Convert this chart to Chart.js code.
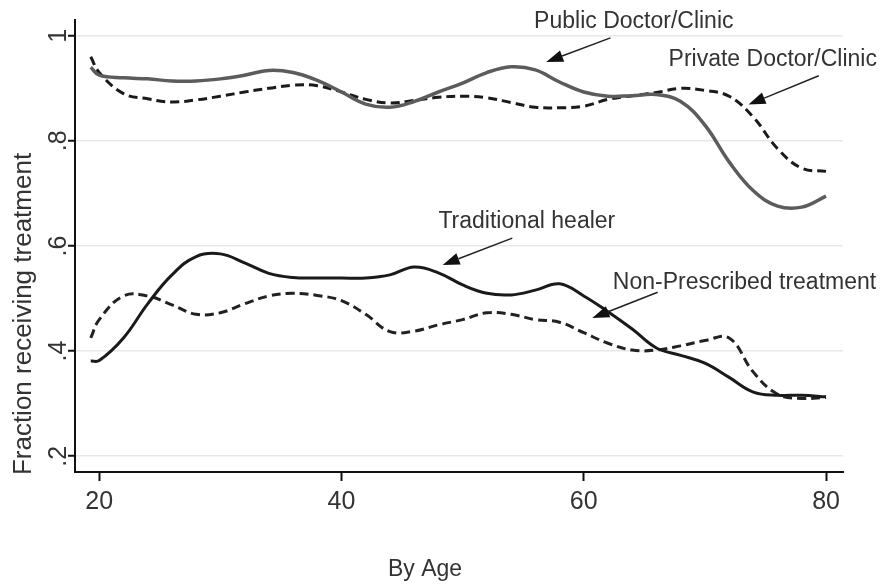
<!DOCTYPE html>
<html>
<head>
<meta charset="utf-8">
<script src="https://cdn.jsdelivr.net/npm/chart.js@4.4.1/dist/chart.umd.min.js"></script>
<style>
  html, body { margin: 0; padding: 0; background: #fff; }
  #wrap { width: 883px; height: 587px; position: relative; }
</style>
</head>
<body>
<div id="wrap"><canvas id="treatChart"></canvas></div>
<script>
// Ages on the x axis (years)
const ages = [19.3, 20, 22, 24, 26, 28, 30, 32, 34, 36, 38, 40, 42, 44, 46, 48, 50,
              52, 54, 56, 58, 60, 62, 64, 66, 68, 70, 72, 74, 76, 78, 80];

// Fraction receiving treatment, one value per age
const publicClinic = [0.94, 0.925, 0.92, 0.918, 0.914, 0.914, 0.918, 0.925, 0.934, 0.93, 0.915, 0.893,
                      0.87, 0.864, 0.875, 0.893, 0.91, 0.93, 0.941, 0.935, 0.912, 0.893, 0.885, 0.886,
                      0.888, 0.875, 0.83, 0.76, 0.705, 0.676, 0.674, 0.695];
const privateClinic = [0.96, 0.93, 0.89, 0.88, 0.874, 0.878, 0.885, 0.893, 0.9, 0.906, 0.905, 0.893,
                       0.879, 0.872, 0.877, 0.883, 0.885, 0.882, 0.873, 0.864, 0.863, 0.866, 0.879, 0.886,
                       0.892, 0.9, 0.896, 0.885, 0.845, 0.785, 0.748, 0.742];
const traditional = [0.381, 0.382, 0.425, 0.49, 0.545, 0.58, 0.585, 0.568, 0.548, 0.54, 0.539, 0.539,
                     0.539, 0.545, 0.56, 0.549, 0.526, 0.51, 0.507, 0.516, 0.528, 0.505, 0.475, 0.442,
                     0.406, 0.392, 0.377, 0.35, 0.322, 0.316, 0.316, 0.313];
const nonPrescribed = [0.425, 0.46, 0.505, 0.505, 0.488, 0.47, 0.473, 0.49, 0.505, 0.51, 0.506, 0.496,
                       0.47, 0.437, 0.438, 0.45, 0.46, 0.473, 0.47, 0.46, 0.455, 0.435, 0.415, 0.402,
                       0.402, 0.41, 0.42, 0.425, 0.36, 0.318, 0.31, 0.312];

// Tick labels
const xTicks = [20, 40, 60, 80];
const yTicks = [0.2, 0.4, 0.6, 0.8, 1];
const yTickText = ['.2', '.4', '.6', '.8', '1'];

// Series names and where their callouts sit (age, fraction)
const seriesNames = ['Public Doctor/Clinic', 'Private Doctor/Clinic', 'Traditional healer', 'Non-Prescribed treatment'];
const labelAt = [[55.9, 1.027], [67.0, 0.954], [48.0, 0.646], [62.4, 0.531]];
const arrowFrom = [[62.2, 0.996], [79.4, 0.924], [54.1, 0.615], [66.1, 0.512]];
const arrowTo = [[56.9, 0.950], [73.6, 0.869], [48.35, 0.564], [60.7, 0.463]];

const FONT = '"Liberation Sans", Arial, sans-serif';
const TEXT = '#333';

function pts(vals) {
    return ages.map((a, i) => ({ x: a, y: vals[i] }));
}

// draws rotated y tick labels, axis titles and callouts
const extras = {
    id: 'extras',
    afterDraw(chart) {
        const ctx = chart.ctx;
        const xs = chart.scales.x;
        const ys = chart.scales.y;
        ctx.save();
        ctx.fillStyle = TEXT;

        // y tick labels, reading upward
        ctx.font = '25px ' + FONT;
        ctx.textAlign = 'center';
        ctx.textBaseline = 'middle';
        yTicks.forEach((v, i) => {
            ctx.save();
            ctx.translate(59, ys.getPixelForValue(v));
            ctx.rotate(-Math.PI / 2);
            ctx.fillText(yTickText[i], 0, 0);
            ctx.restore();
        });

        // axis titles
        ctx.font = '26px ' + FONT;
        ctx.save();
        ctx.translate(24, 314);
        ctx.rotate(-Math.PI / 2);
        ctx.fillText('Fraction receiving treatment', 0, 0);
        ctx.restore();
        ctx.font = '23px ' + FONT;
        ctx.fillText('By Age', 425, 570);

        // callouts
        ctx.textAlign = 'left';
        seriesNames.forEach((name, i) => {
            const lx = xs.getPixelForValue(labelAt[i][0]);
            const ly = ys.getPixelForValue(labelAt[i][1]);
            ctx.fillText(name, lx, ly);

            const x0 = xs.getPixelForValue(arrowFrom[i][0]);
            const y0 = ys.getPixelForValue(arrowFrom[i][1]);
            const x1 = xs.getPixelForValue(arrowTo[i][0]);
            const y1 = ys.getPixelForValue(arrowTo[i][1]);
            const ang = Math.atan2(y1 - y0, x1 - x0);
            const head = 17, half = 6;
            const bx = x1 - head * Math.cos(ang);
            const by = y1 - head * Math.sin(ang);
            ctx.strokeStyle = '#222';
            ctx.lineWidth = 1.5;
            ctx.beginPath();
            ctx.moveTo(x0, y0);
            ctx.lineTo(bx, by);
            ctx.stroke();
            ctx.fillStyle = '#111';
            ctx.beginPath();
            ctx.moveTo(x1, y1);
            ctx.lineTo(bx + half * Math.sin(ang), by - half * Math.cos(ang));
            ctx.lineTo(bx - half * Math.sin(ang), by + half * Math.cos(ang));
            ctx.closePath();
            ctx.fill();
            ctx.fillStyle = TEXT;
        });
        ctx.restore();
    }
};

const ctx = document.getElementById('treatChart').getContext('2d');
const treatChart = new Chart(ctx, {
    type: 'line',
    data: {
        datasets: [
            {
                label: seriesNames[0],
                data: pts(publicClinic),
                borderColor: '#5c5c5c',
                borderWidth: 3.5,
                tension: 0.4
            },
            {
                label: seriesNames[1],
                data: pts(privateClinic),
                borderColor: '#1a1a1a',
                borderWidth: 3,
                borderDash: [9, 5],
                tension: 0.4
            },
            {
                label: seriesNames[2],
                data: pts(traditional),
                borderColor: '#1a1a1a',
                borderWidth: 3,
                tension: 0.4
            },
            {
                label: seriesNames[3],
                data: pts(nonPrescribed),
                borderColor: '#222',
                borderWidth: 3,
                borderDash: [9, 5],
                tension: 0.4
            }
        ]
    },
    options: {
        responsive: true,
        maintainAspectRatio: false,
        animation: false,
        elements: { point: { radius: 0 } },
        layout: { padding: { top: 20, right: 40, left: 0, bottom: 0 } },
        plugins: {
            legend: { display: false },
            tooltip: { enabled: false }
        },
        scales: {
            x: {
                type: 'linear',
                min: 18,
                max: 81.4,
                afterFit: s => { s.height = 115; },
                afterBuildTicks: s => { s.ticks = xTicks.map(v => ({ value: v })); },
                border: { display: true, color: '#111', width: 2 },
                grid: { drawOnChartArea: false, drawTicks: true, tickLength: 9, tickColor: '#111', tickWidth: 2 },
                ticks: {
                    color: TEXT,
                    padding: 6,
                    font: { family: FONT, size: 25 },
                    maxRotation: 0
                }
            },
            y: {
                type: 'linear',
                min: 0.17,
                max: 1.03,
                afterFit: s => { s.width = 75; },
                afterBuildTicks: s => { s.ticks = yTicks.map(v => ({ value: v })); },
                border: { display: true, color: '#111', width: 2 },
                grid: { color: '#e8e8e8', lineWidth: 1.5, drawTicks: true, tickLength: 7, tickColor: '#111', tickWidth: 2 },
                ticks: { display: false }
            }
        }
    },
    plugins: [extras]
});
</script>
</body>
</html>
